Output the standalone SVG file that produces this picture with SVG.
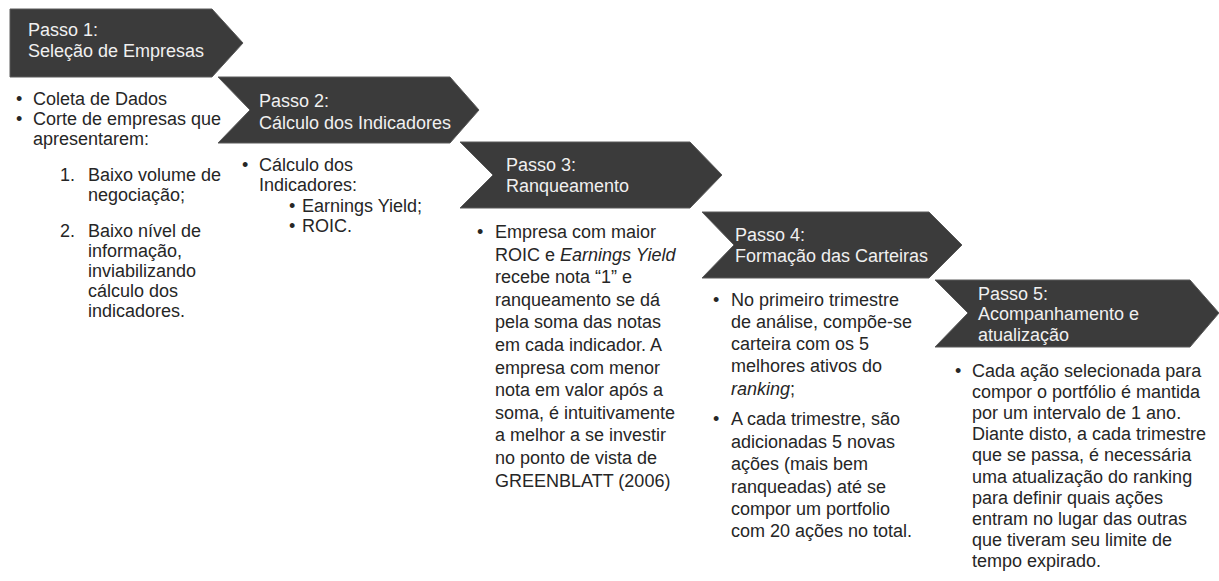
<svg xmlns="http://www.w3.org/2000/svg" width="1219" height="581" viewBox="0 0 1219 581">
<style>
.bg{fill:#ffffff}
.chev{fill:#3b3b3b;stroke:#5a5a5a;stroke-width:1}
.title{font-family:"Liberation Sans",Arial,sans-serif;font-size:18px;fill:#f0f0f0}
.body{font-family:"Liberation Sans",Arial,sans-serif;font-size:18px;fill:#262626}
.it{font-style:italic}
</style>
<rect class="bg" x="0" y="0" width="1219" height="581"/>
<g id="connectors"></g>
<g id="step1">
<polygon class="chev" points="10,9 212,9 243,43 212,77 10,77"/>
<text class="title" x="28" y="36">Passo 1:</text>
<text class="title" x="28" y="57">Seleção de Empresas</text>
<text class="body" x="16" y="105">•</text>
<text class="body" x="33" y="105">Coleta de Dados</text>
<text class="body" x="16" y="125">•</text>
<text class="body" x="33" y="125">Corte de empresas que</text>
<text class="body" x="33" y="145">apresentarem:</text>
<text class="body" x="60" y="181">1.</text>
<text class="body" x="88" y="181">Baixo volume de</text>
<text class="body" x="88" y="201">negociação;</text>
<text class="body" x="60" y="237">2.</text>
<text class="body" x="88" y="237">Baixo nível de</text>
<text class="body" x="88" y="257">informação,</text>
<text class="body" x="88" y="277">inviabilizando</text>
<text class="body" x="88" y="297">cálculo dos</text>
<text class="body" x="88" y="317">indicadores.</text>
</g>
<g id="step2">
<polygon class="chev" points="218,77 450,77 479,110 450,143 218,143 250,110"/>
<text class="title" x="259" y="107">Passo 2:</text>
<text class="title" x="259" y="129">Cálculo dos Indicadores</text>
<text class="body" x="242" y="171">•</text>
<text class="body" x="259" y="171">Cálculo dos</text>
<text class="body" x="259" y="191">Indicadores:</text>
<text class="body" x="289" y="212">•</text>
<text class="body" x="302" y="212">Earnings Yield;</text>
<text class="body" x="289" y="232">•</text>
<text class="body" x="302" y="232">ROIC.</text>
</g>
<g id="step3">
<polygon class="chev" points="460,142 690,142 722,175 690,208 460,208 493,175"/>
<text class="title" x="506" y="171">Passo 3:</text>
<text class="title" x="506" y="192">Ranqueamento</text>
<text class="body" x="477" y="238">•</text>
<text class="body" x="495" y="238">Empresa com maior</text>
<text class="body" x="495" y="260.6">ROIC e <tspan class="it">Earnings Yield</tspan></text>
<text class="body" x="495" y="283.2">recebe nota “1” e</text>
<text class="body" x="495" y="305.8">ranqueamento se dá</text>
<text class="body" x="495" y="328.4">pela soma das notas</text>
<text class="body" x="495" y="351">em cada indicador. A</text>
<text class="body" x="495" y="373.6">empresa com menor</text>
<text class="body" x="495" y="396.2">nota em valor após a</text>
<text class="body" x="495" y="418.8">soma, é intuitivamente</text>
<text class="body" x="495" y="441.4">a melhor a se investir</text>
<text class="body" x="495" y="464">no ponto de vista de</text>
<text class="body" x="495" y="486.6">GREENBLATT (2006)</text>
</g>
<g id="step4">
<polygon class="chev" points="702,212 929,212 962,245 929,278 702,278 734,245"/>
<text class="title" x="735" y="241">Passo 4:</text>
<text class="title" x="735" y="262">Formação das Carteiras</text>
<text class="body" x="713" y="306">•</text>
<text class="body" x="731" y="306">No primeiro trimestre</text>
<text class="body" x="731" y="328">de análise, compõe-se</text>
<text class="body" x="731" y="350">carteira com os 5</text>
<text class="body" x="731" y="372">melhores ativos do</text>
<text class="body" x="731" y="394.5"><tspan class="it">ranking</tspan>;</text>
<text class="body" x="713" y="425">•</text>
<text class="body" x="731" y="425">A cada trimestre, são</text>
<text class="body" x="731" y="447.5">adicionadas 5 novas</text>
<text class="body" x="731" y="470">ações (mais bem</text>
<text class="body" x="731" y="492.5">ranqueadas) até se</text>
<text class="body" x="731" y="515">compor um portfolio</text>
<text class="body" x="731" y="537">com 20 ações no total.</text>
</g>
<g id="step5">
<polygon class="chev" points="935,280 1190,280 1219,313 1190,347 935,347 968,313"/>
<text class="title" x="978" y="300">Passo 5:</text>
<text class="title" x="978" y="320">Acompanhamento e</text>
<text class="title" x="978" y="341">atualização</text>
<text class="body" x="955" y="377">•</text>
<text class="body" x="972" y="377">Cada ação selecionada para</text>
<text class="body" x="972" y="398.1">compor o portfólio é mantida</text>
<text class="body" x="972" y="419.2">por um intervalo de 1 ano.</text>
<text class="body" x="972" y="440.3">Diante disto, a cada trimestre</text>
<text class="body" x="972" y="461.4">que se passa, é necessária</text>
<text class="body" x="972" y="482.5">uma atualização do ranking</text>
<text class="body" x="972" y="503.6">para definir quais ações</text>
<text class="body" x="972" y="524.7">entram no lugar das outras</text>
<text class="body" x="972" y="545.8">que tiveram seu limite de</text>
<text class="body" x="972" y="566.9">tempo expirado.</text>
</g>
</svg>
